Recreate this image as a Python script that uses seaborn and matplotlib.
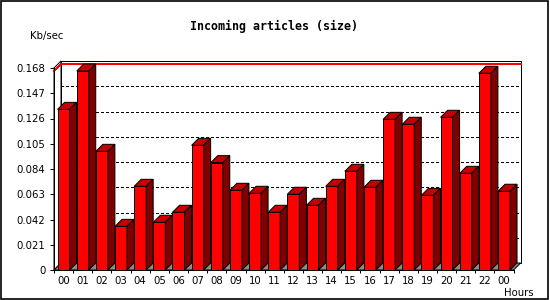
import numpy as np
import pandas as pd
import matplotlib
matplotlib.use("Agg")
import matplotlib.pyplot as plt
import seaborn as sns
from matplotlib.patches import Polygon, Rectangle
from matplotlib.lines import Line2D
from matplotlib.ticker import FixedLocator

# ---- data ----
hours = ["00", "01", "02", "03", "04", "05", "06", "07", "08", "09", "10", "11",
         "12", "13", "14", "15", "16", "17", "18", "19", "20", "21", "22", "00"]
values = [0.1336, 0.1655, 0.0987, 0.0363, 0.0696, 0.0397, 0.0480, 0.1037,
          0.0893, 0.0663, 0.0638, 0.0480, 0.0630, 0.0538, 0.0696, 0.0821,
          0.0688, 0.1253, 0.1212, 0.0621, 0.1270, 0.0804, 0.1636, 0.0655]
yticks = [0, 0.021, 0.042, 0.063, 0.084, 0.105, 0.126, 0.147, 0.168]
ytick_labels = ["0", "0.021", "0.042", "0.063", "0.084", "0.105", "0.126", "0.147", "0.168"]
title = "Incoming articles (size)"
ylabel = "Kb/sec"
xlabel = "Hours"

FRONT = "#ff0000"
TOP = "#c40000"
SIDE = "#800000"
FLOOR = "#8c8c8c"
LW = 0.72  # 1 px

plt.rcParams["font.family"] = ["DejaVu Sans"]
W, H = 550, 300
fig = plt.figure(figsize=(W / 100, H / 100), dpi=100)
fig.patch.set_facecolor("white")
ax = fig.add_axes([54 / W, 30 / H, 459.6 / W, 202 / H])
ax.patch.set_visible(False)

df = pd.DataFrame({"slot": list(range(len(hours))), "value": values})
sns.barplot(data=df, x="slot", y="value", color=FRONT, saturation=1,
            width=0.627, edgecolor="black", linewidth=LW, ax=ax)
bars = list(ax.patches)

x0, x1 = -0.5, len(hours) - 0.5
ymax = yticks[-1]
ax.set_xlim(x0, x1)
ax.set_ylim(0, ymax)
ax.set_xlabel("")
ax.set_ylabel("")

# depth offset (7 px right, 7 px up) in data units
p0 = ax.transData.transform((0, 0))
d = ax.transData.inverted().transform(p0 + np.array([7.0, 7.0]))
dx, dy = d[0], d[1]

# back wall
ax.add_patch(Rectangle((x0 + dx, dy), x1 - x0, ymax, facecolor="white",
                       edgecolor="black", lw=LW, clip_on=False, zorder=0.6))
# left wall
ax.add_patch(Polygon([(x0, 0), (x0, ymax), (x0 + dx, ymax + dy), (x0 + dx, dy)],
                     closed=True, facecolor="white", edgecolor="black", lw=LW,
                     clip_on=False, zorder=0.7))
# gridlines on back wall
for t in yticks[1:-1]:
    ax.add_line(Line2D([x0 + dx, x1 + dx], [t + dy, t + dy], color="black", lw=1.0,
                       linestyle=(0, (1.5, 1.5)), clip_on=False, zorder=0.9,
                       antialiased=False))
# max line
vmax = max(values)
ax.add_line(Line2D([x0, x0 + dx, x1 + dx], [vmax, vmax + dy, vmax + dy],
                   color="red", lw=LW, clip_on=False, zorder=1.0,
                   antialiased=False))
# floor
ax.add_patch(Polygon([(x0, 0), (x1, 0), (x1 + dx, dy), (x0 + dx, dy)], closed=True,
                     facecolor=FLOOR, edgecolor="black", lw=LW, clip_on=False,
                     zorder=1.2))

# 3D bar faces
for i, p in enumerate(bars):
    bx, w, h = p.get_x(), p.get_width(), p.get_height()
    z = 3 + i * 0.01
    p.set_zorder(z)
    top = Polygon([(bx, h), (bx + w, h), (bx + w + dx, h + dy), (bx + dx, h + dy)],
                  closed=True, facecolor=TOP, edgecolor="black", lw=LW,
                  clip_on=False, zorder=z + 0.003)
    side = Polygon([(bx + w, 0), (bx + w, h), (bx + w + dx, h + dy), (bx + w + dx, dy)],
                   closed=True, facecolor=SIDE, edgecolor="black", lw=LW,
                   clip_on=False, zorder=z + 0.005)
    ax.add_patch(top)
    ax.add_patch(side)

# spines
for s in ["top", "right"]:
    ax.spines[s].set_visible(False)
for s in ["left", "bottom"]:
    ax.spines[s].set_linewidth(LW)
    ax.spines[s].set_color("black")
    ax.spines[s].set_zorder(5)

ax.set_yticks(yticks, ytick_labels)
ax.set_xticks(range(len(hours)), hours)
ax.xaxis.set_minor_locator(FixedLocator(np.arange(x0, x1 + 0.01, 1.0)))
ax.tick_params(axis="y", direction="out", length=2.9, width=LW, pad=3.4,
               labelsize=7.3, colors="black")
ax.tick_params(axis="x", which="major", length=0, pad=4.6, labelsize=7.3,
               colors="black")
ax.tick_params(axis="x", which="minor", direction="out", length=2.4, width=LW)

fig.text(274.5 / W, 1 - 26 / H, title, ha="center", va="center",
         family="DejaVu Sans Mono", weight="bold", size=8.4)
fig.text(47 / W, 1 - 36.5 / H, ylabel, ha="center", va="center", size=7.3)
fig.text(518.5 / W, 1 - 292.5 / H, xlabel, ha="center", va="center", size=7.3)

# outer border
fig.patches.append(Rectangle((0.75 / W, 1.2 / H), 547.3 / W, 298.0 / H,
                             transform=fig.transFigure, fill=False,
                             edgecolor="black", lw=1.2, zorder=10))

fig.savefig("out.png", dpi=100, facecolor="white")
